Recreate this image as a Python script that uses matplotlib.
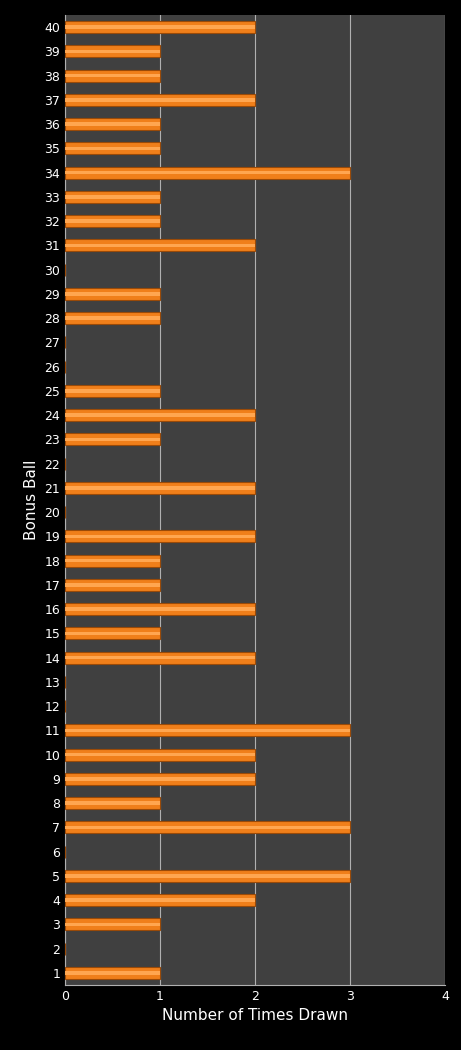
import matplotlib
matplotlib.use("Agg")
import matplotlib.pyplot as plt

balls = list(range(1, 41))
counts = [1,0,1,2,3,0,3,1,2,2,3,0,0,2,1,2,1,1,2,0,2,0,1,2,1,0,0,1,1,0,2,1,1,3,1,1,2,1,1,2]
xticks = [0, 1, 2, 3, 4]

fig = plt.figure(figsize=(4.61, 10.5), dpi=100, facecolor='black')
ax = fig.add_axes([65/461, 1-985/1050, 380/461, 970/1050])
ax.set_facecolor('#404040')
ax.barh(balls, counts, height=0.5, color='#f07f1a', edgecolor='#9a4a08', linewidth=0.8, zorder=3)
ax.barh(balls, counts, height=0.15, color='#ffa650', linewidth=0, zorder=4)
ax.set_xlim(0, 4)
ax.set_ylim(0.5, 40.5)
ax.set_xticks(xticks)
ax.set_yticks(balls)
ax.grid(axis='x', color='#b0b0b0', linewidth=0.8, zorder=1)
ax.tick_params(colors='white', labelsize=9, length=0)
for s in ['top', 'right']:
    ax.spines[s].set_visible(False)
for s in ['left', 'bottom']:
    ax.spines[s].set_color('#b0b0b0')
ax.set_xlabel('Number of Times Drawn', color='white', fontsize=11)
ax.set_ylabel('Bonus Ball', color='white', fontsize=11, labelpad=4)
fig.savefig('out.png', facecolor='black')
